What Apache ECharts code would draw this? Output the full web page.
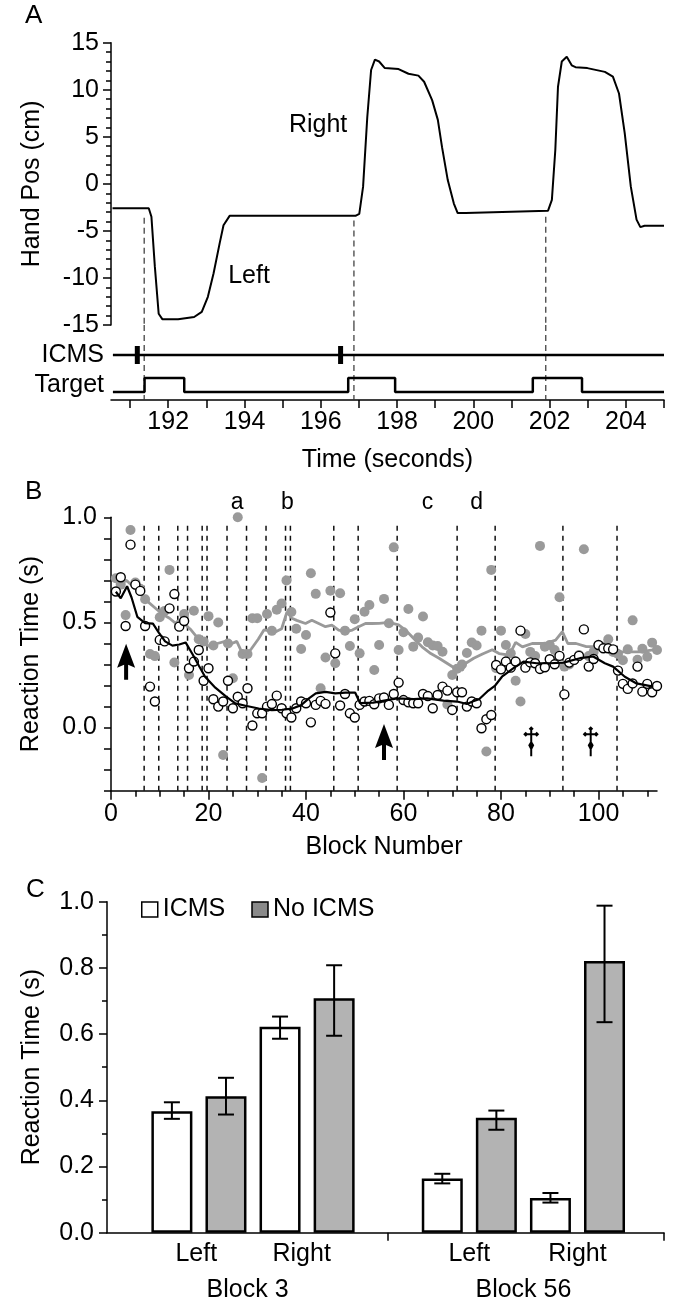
<!DOCTYPE html>
<html><head><meta charset="utf-8">
<script src="https://cdn.jsdelivr.net/npm/echarts@6/dist/echarts.min.js"></script>
<style>html,body{margin:0;padding:0;background:#fff}#c{width:679px;height:1307px}</style>
</head><body><div id="c"></div>
<script>
// ---------- Panel A data ----------
const handTime = [190.54,191.49,191.56,191.65,191.75,191.85,192.26,192.68,192.88,193.04,193.19,193.35,193.45,193.61,196.91,197.01,197.11,197.22,197.32,197.42,197.53,197.68,198.04,198.30,198.56,198.71,198.92,199.07,199.18,199.33,199.49,199.59,199.80,201.96,202.06,202.15,202.22,202.32,202.45,202.58,202.68,202.99,203.45,203.66,203.82,203.97,204.13,204.28,204.38,204.49,205.0];
const handPos = [-2.6,-2.6,-3.5,-8.8,-13.8,-14.4,-14.4,-14.15,-13.6,-12.0,-9.5,-6.3,-4.4,-3.4,-3.4,-3.2,-0.3,7.1,12.1,13.2,13.0,12.3,12.2,11.7,11.5,10.85,8.9,6.8,3.9,0.4,-2.1,-3.1,-3.1,-2.85,-1.7,3.6,10.3,13.0,13.5,12.6,12.4,12.3,11.9,11.4,9.6,5.4,-0.3,-3.8,-4.6,-4.45,-4.45];
const timeStart = 190.55;
const timeEnd = 205;
const targetOn = [191.38, 196.72, 201.56];
const targetOff = [192.42, 197.95, 202.85];
const targetLow = 0.8, targetHigh = 2.2;
const icmsRow = 4.5;
const icmsPulse = [191.19, 196.52];
const cueLines = [191.37, 196.87, 201.90];
const cueLineTop = [-3.6, -3.9, -3.5];
const timeTickValues = [191,192,193,194,195,196,197,198,199,200,201,202,203,204,205];
const timeLabelValues = [192,194,196,198,200,202,204];
const rowLabelPos = [1.5, 4.5];
const rowLabelText = ['Target', 'ICMS'];
const traceLabels = [{name:'Right', value:[195.93, 6.25]}, {name:'Left', value:[194.12, -9.8]}];

// ---------- Panel B data ----------
const blockNumbers = Array.from({length:112}, (_, i) => i + 1);
const icmsRT = [0.647,0.715,0.483,0.87,0.68,0.65,0.483,0.195,0.124,0.417,
  0.41,0.567,0.635,0.48,0.507,0.282,0.314,0.369,0.223,0.282,
  0.135,0.10,0.124,0.223,0.092,0.147,0.116,0.187,0.01,0.068,
  0.068,0.10,0.112,0.152,0.092,0.068,0.048,0.092,0.124,0.116,
  0.025,0.108,0.127,0.113,0.547,0.353,0.105,0.16,0.068,0.048,
  0.108,0.124,0.127,0.111,0.139,0.143,0.108,0.16,0.214,0.131,
  0.12,0.116,0.116,0.16,0.15,0.092,0.155,0.195,0.176,0.084,
  0.168,0.168,0.10,0.124,0.116,-0.003,0.04,0.06,0.298,0.277,
  0.314,0.285,0.314,0.461,0.285,0.31,0.306,0.279,0.287,0.325,
  0.301,0.341,0.158,0.309,0.322,0.341,0.467,0.29,0.326,0.393,
  0.377,0.377,0.372,0.271,0.208,0.184,0.21,0.29,0.171,0.208,
  0.168,0.198];
const noIcmsRT = [0.71,0.68,0.535,0.94,0.69,0.66,0.61,0.35,0.34,0.525,
  0.555,0.75,0.31,0.49,0.54,0.25,0.556,0.42,0.41,0.53,
  0.39,0.50,-0.13,0.40,0.235,1.0,0.35,0.35,0.52,0.52,
  -0.24,0.54,0.46,0.56,0.59,0.70,0.55,0.47,0.374,0.44,
  0.734,0.636,0.187,0.333,0.651,0.306,0.639,0.461,0.388,0.515,
  0.353,0.551,0.583,0.274,0.393,0.612,0.496,0.857,0.369,0.453,
  0.564,0.385,0.428,0.528,0.406,0.39,0.388,0.361,0.11,0.25,
  0.28,0.30,0.355,0.405,0.39,0.461,-0.114,0.75,0.282,0.461,
  0.393,0.353,0.223,0.124,0.445,0.36,0.34,0.864,0.385,0.393,
  0.369,0.62,0.29,0.30,0.32,0.345,0.848,0.34,0.36,0.39,
  0.384,0.42,0.36,0.35,0.32,0.372,0.51,0.323,0.375,0.337,
  0.404,0.369];
const icmsAvg = [[1,0.646],[2,0.615],[3.3,0.672],[4.2,0.62],[5.4,0.527],[7,0.497],[8.6,0.494],[9.8,0.452],[11.1,0.41],[12.6,0.39],[14,0.395],[15.3,0.405],[16.7,0.35],[18,0.295],[19.3,0.242],[21.4,0.19],[23.5,0.15],[25.5,0.115],[27.6,0.104],[30.3,0.091],[33,0.083],[35.1,0.085],[37.1,0.09],[39,0.107],[40.6,0.139],[42,0.163],[44,0.17],[46,0.163],[48.1,0.166],[50.1,0.166],[51.1,0.116],[53.8,0.119],[56.6,0.131],[58.7,0.139],[62.1,0.135],[64.8,0.139],[68.2,0.128],[71,0.124],[73,0.112],[74.3,0.125],[75.5,0.135],[77.2,0.172],[78.8,0.2],[80.2,0.242],[82.5,0.282],[84.6,0.314],[87.3,0.306],[90,0.306],[92.8,0.309],[96.2,0.33],[98.9,0.338],[101.3,0.306],[103,0.29],[105.4,0.242],[107.8,0.21],[111.2,0.195]];
const noIcmsAvg = [[1,0.71],[2.2,0.69],[3.2,0.70],[5,0.66],[7,0.61],[9,0.57],[10.5,0.54],[12,0.52],[13.3,0.495],[14.2,0.48],[15.2,0.49],[16.4,0.465],[18,0.42],[19.3,0.395],[20.5,0.385],[21.8,0.40],[23.4,0.41],[24.8,0.40],[25.8,0.41],[26.8,0.36],[27.8,0.345],[28.8,0.375],[30.2,0.42],[31.4,0.465],[32.5,0.46],[33.7,0.455],[35,0.47],[36.1,0.55],[37.1,0.52],[38.1,0.51],[39.9,0.495],[41.2,0.51],[42.6,0.495],[44,0.48],[45.3,0.487],[46.7,0.464],[48.1,0.456],[49.5,0.464],[50.8,0.48],[52.2,0.495],[53.5,0.495],[55,0.496],[57,0.50],[59,0.488],[60.4,0.464],[62.1,0.424],[63.8,0.384],[65.6,0.352],[67.3,0.33],[69,0.305],[70.7,0.28],[72.1,0.273],[72.7,0.305],[74.4,0.33],[76.2,0.35],[78.2,0.37],[79.6,0.352],[81.7,0.345],[83,0.405],[84.4,0.384],[86.4,0.40],[89.1,0.40],[91.2,0.416],[92.6,0.456],[93.7,0.40],[95.4,0.40],[97.5,0.385],[99.5,0.385],[101.6,0.37],[103.6,0.36],[105.6,0.36],[108.4,0.36],[111.2,0.37]];
const sessionLines = [6.8,9.8,13.7,15.7,18.7,19.7,23.8,27.8,31.8,35.8,36.8,45.7,50.7,58.7,71.0,78.8,92.7,103.8];
const sessionLetters = [{name:'a', value:[25.9,1.07]},{name:'b', value:[36.2,1.07]},{name:'c', value:[64.9,1.07]},{name:'d', value:[75.0,1.07]}];
const arrowMarks = [[3.1,0.313],[56.0,-0.069]];
const daggerMarks = [[86.2,-0.065],[98.4,-0.065]];
const blockMinorTicks = [5,10,15,25,30,35,45,50,55,65,70,75,85,90,95,105,110];
const blockMajorTicks = [0,20,40,60,80,100];

// ---------- Panel C data ----------
const cIcmsPos = [0,2,5,7];
const cNoIcmsPos = [1,3,6,8];
const cIcmsMean = [0.367,0.622,0.164,0.105];
const cIcmsLo = [0.344,0.586,0.149,0.091];
const cIcmsHi = [0.394,0.653,0.178,0.120];
const cNoIcmsMean = [0.412,0.708,0.347,0.821];
const cNoIcmsLo = [0.357,0.595,0.311,0.636];
const cNoIcmsHi = [0.468,0.808,0.369,0.988];
const cLabelPos = [0.45,2.4,5.5,7.5];
const cLabelText = ['Left','Right','Left','Right'];
const cGroupPos = [1.4,6.5];
const cGroupText = ['Block 3','Block 56'];
const cTickPos = [4, 9.1];

// ---------- build ----------
const FONT = 'Liberation Sans, Arial, Helvetica, sans-serif';
const FS = 25;
const txt = {color:'#000', fontSize:FS, fontFamily:FONT};
const axLine = {color:'#000', width:1.5};

const targetData = [[timeStart, targetLow]];
targetOn.forEach((on, i) => {
  targetData.push([on, targetLow],[on, targetHigh],[targetOff[i], targetHigh],[targetOff[i], targetLow]);
});
targetData.push([timeEnd, targetLow]);

const chart = echarts.init(document.getElementById('c'), null, {renderer:'canvas'});
const noSplit = {splitLine:{show:false}, minorSplitLine:{show:false}};
const line = (extra) => Object.assign({show:true, onZero:false, lineStyle:axLine}, extra || {});
const titleStyle = {fontSize:26, fontWeight:'normal', color:'#000', fontFamily:FONT};

const daggerPath = 'path://M8,0 L10.5,2.5 L8,5 L5.5,2.5 Z ' +
  'M0,8 L2.5,5.5 L5,8 L2.5,10.5 Z ' +
  'M16,8 L13.5,10.5 L11,8 L13.5,5.5 Z ' +
  'M2,7 L14,7 L14,9 L2,9 Z ' +
  'M7,2 L9,2 L9,30 L7,30 Z ' +
  'M8,14 L11,19 L8,25 L5,19 Z';

chart.setOption({
  animation:false,
  backgroundColor:'#fff',
  textStyle:{fontFamily:FONT, color:'#000'},
  title:[
    {text:'A', left:25, top:3, padding:0, textStyle:titleStyle},
    {text:'B', left:25, top:479, padding:0, textStyle:titleStyle},
    {text:'C', left:26, top:877, padding:0, textStyle:titleStyle}
  ],
  legend:{
    data:[{name:'ICMS', itemStyle:{color:'#fff', borderColor:'#000', borderWidth:1.5}},
          {name:'No ICMS', itemStyle:{color:'#8a8a8a', borderColor:'#000', borderWidth:1.5}}],
    left:141, top:897, padding:0, itemWidth:16, itemHeight:15, itemGap:26, icon:'rect', selectedMode:false,
    textStyle:{fontSize:FS, color:'#000', fontFamily:FONT}
  },
  grid:[
    {left:111, top:42.7, width:553, height:282.3, outerBoundsMode:'none'},
    {left:111, top:325, width:553, height:75, outerBoundsMode:'none'},
    {left:111, top:517.3, width:546, height:273.4, outerBoundsMode:'none'},
    {left:107, top:901.7, width:557, height:331, outerBoundsMode:'none'}
  ],
  xAxis:[
    Object.assign({gridIndex:0, type:'value', min:190.5, max:205, show:false}, noSplit),
    Object.assign({gridIndex:1, type:'value', min:190.5, max:205, position:'bottom',
      axisLine:line(),
      axisTick:{show:true, customValues:timeTickValues, length:8, lineStyle:axLine},
      axisLabel:Object.assign({show:true, customValues:timeLabelValues, margin:10}, txt),
      name:'Time (seconds)', nameLocation:'middle', nameGap:48, nameTextStyle:txt}, noSplit),
    Object.assign({gridIndex:2, type:'value', min:0, max:112, position:'bottom',
      axisLine:line(),
      axisTick:{show:true, customValues:blockMinorTicks, length:6, lineStyle:axLine},
      axisLabel:{show:false}}, noSplit),
    Object.assign({gridIndex:2, type:'value', min:0, max:112, position:'bottom',
      axisLine:{show:false, onZero:false},
      axisTick:{show:true, customValues:blockMajorTicks, length:9, lineStyle:axLine},
      axisLabel:Object.assign({show:true, customValues:blockMajorTicks, margin:11}, txt),
      name:'Block Number', nameLocation:'middle', nameGap:44, nameTextStyle:txt}, noSplit),
    Object.assign({gridIndex:3, type:'value', min:-1.2, max:9.1, position:'bottom',
      axisLine:line(),
      axisTick:{show:true, customValues:cTickPos, length:8, lineStyle:axLine},
      axisLabel:Object.assign({show:true, customValues:cLabelPos, margin:9,
        formatter:v => cLabelText[cLabelPos.indexOf(v)] || ''}, txt)}, noSplit),
    Object.assign({gridIndex:3, type:'value', min:-1.2, max:9.1, position:'bottom',
      axisLine:{show:false, onZero:false}, axisTick:{show:false},
      axisLabel:Object.assign({show:true, customValues:cGroupPos, margin:45,
        formatter:v => cGroupText[cGroupPos.indexOf(v)] || ''}, txt)}, noSplit)
  ],
  yAxis:[
    Object.assign({gridIndex:0, type:'value', min:-15, max:15, interval:5, position:'left',
      axisLine:line(),
      axisTick:{show:true, length:8, lineStyle:axLine},
      minorTick:{show:true, splitNumber:5, length:5, lineStyle:axLine},
      axisLabel:Object.assign({show:true, margin:12}, txt),
      name:'Hand Pos (cm)', nameLocation:'middle', nameGap:66, nameTextStyle:txt}, noSplit),
    Object.assign({gridIndex:1, type:'value', min:0, max:7.5, position:'left',
      axisLine:{show:false, onZero:false}, axisTick:{show:false},
      axisLabel:Object.assign({show:true, customValues:rowLabelPos, margin:7,
        formatter:v => rowLabelText[rowLabelPos.indexOf(v)] || ''}, txt)}, noSplit),
    Object.assign({gridIndex:2, type:'value', min:-0.3, max:1.0, interval:0.1, position:'left',
      axisLine:line(),
      axisTick:{show:true, length:7, lineStyle:axLine},
      axisLabel:Object.assign({show:true, margin:14, formatter:v => {
        const r = Math.round(v*10)/10;
        return (Math.abs(r*2 - Math.round(r*2)) < 1e-6) ? (r === 0 ? '0.0' : r.toFixed(1)) : '';
      }}, txt),
      name:'Reaction Time (s)', nameLocation:'middle', nameGap:67, nameTextStyle:txt}, noSplit),
    Object.assign({gridIndex:3, type:'value', min:0, max:1.0, interval:0.2, position:'left',
      axisLine:line(),
      axisTick:{show:true, length:8, lineStyle:axLine},
      minorTick:{show:true, splitNumber:2, length:5, lineStyle:axLine},
      axisLabel:Object.assign({show:true, margin:13, formatter:v => (Math.round(v*10)/10).toFixed(1)}, txt),
      name:'Reaction Time (s)', nameLocation:'middle', nameGap:62, nameTextStyle:txt}, noSplit)
  ],
  series:[
    // Panel A
    {type:'line', xAxisIndex:0, yAxisIndex:0, symbol:'none', z:3,
      data:handTime.map((t,i)=>[t, handPos[i]]), lineStyle:{color:'#000', width:2}},
    {type:'line', xAxisIndex:0, yAxisIndex:0, symbol:'none', connectNulls:false, z:2,
      data:cueLines.flatMap((x,i)=>[[x,cueLineTop[i]],[x,-15],[x,null]]),
      lineStyle:{color:'#333', width:1.2, type:[6,4]}},
    {type:'line', xAxisIndex:1, yAxisIndex:1, symbol:'none', connectNulls:false, z:2,
      data:cueLines.flatMap(x=>[[x,7.5],[x,0],[x,null]]),
      lineStyle:{color:'#333', width:1.2, type:[6,4]}},
    {type:'line', xAxisIndex:1, yAxisIndex:1, symbol:'none', z:3,
      data:[[timeStart, icmsRow],[timeEnd, icmsRow]], lineStyle:{color:'#000', width:2.5}},
    {type:'scatter', xAxisIndex:1, yAxisIndex:1, symbol:'rect', symbolSize:[5,18], z:4,
      data:icmsPulse.map(t=>[t, icmsRow]), itemStyle:{color:'#000', opacity:1}},
    {type:'line', xAxisIndex:1, yAxisIndex:1, symbol:'none', z:3,
      data:targetData, lineStyle:{color:'#000', width:2.5}},
    {type:'scatter', xAxisIndex:0, yAxisIndex:0, symbolSize:1, z:5, silent:true,
      data:traceLabels, itemStyle:{color:'rgba(0,0,0,0)', opacity:1},
      label:Object.assign({show:true, position:'inside', formatter:p=>p.name, opacity:1}, txt)},
    // Panel B
    {type:'line', xAxisIndex:2, yAxisIndex:2, symbol:'none', connectNulls:false, z:1,
      data:sessionLines.flatMap(x=>[[x,-0.3],[x,0.98],[x,null]]),
      lineStyle:{color:'#111', width:1.5, type:[5,5]}},
    {type:'scatter', xAxisIndex:2, yAxisIndex:2, symbolSize:10, z:2, clip:false,
      data:blockNumbers.map((b,i)=>[b, noIcmsRT[i]]), itemStyle:{color:'#9a9a9a', opacity:1}},
    {type:'line', xAxisIndex:2, yAxisIndex:2, symbol:'none', z:3,
      data:noIcmsAvg, lineStyle:{color:'#999', width:2.8}},
    {type:'scatter', xAxisIndex:2, yAxisIndex:2, symbolSize:9, z:4, clip:false,
      data:blockNumbers.map((b,i)=>[b, icmsRT[i]]),
      itemStyle:{color:'#fff', borderColor:'#000', borderWidth:1.4, opacity:1}},
    {type:'line', xAxisIndex:2, yAxisIndex:2, symbol:'none', z:5,
      data:icmsAvg, lineStyle:{color:'#000', width:2.2}},
    {type:'scatter', xAxisIndex:2, yAxisIndex:2, symbolSize:1, z:5, clip:false, silent:true,
      data:sessionLetters, itemStyle:{color:'rgba(0,0,0,0)', opacity:1},
      label:{show:true, position:'inside', formatter:p=>p.name, color:'#000', opacity:1, fontSize:23, fontFamily:FONT}},
    {type:'scatter', xAxisIndex:2, yAxisIndex:2, z:6, clip:false,
      symbol:'path://M9,0 L18,24 L11,21 L11,36 L7,36 L7,21 L0,24 Z', symbolSize:[18,36],
      data:arrowMarks, itemStyle:{color:'#000', opacity:1}},
    {type:'scatter', xAxisIndex:2, yAxisIndex:2, z:6, clip:false,
      symbol:daggerPath, symbolSize:[16,30], data:daggerMarks, itemStyle:{color:'#000', opacity:1}},
    // Panel C
    {type:'bar', name:'ICMS', xAxisIndex:4, yAxisIndex:3, barWidth:41, barGap:'-100%', z:2,
      data:cIcmsPos.map((x,i)=>[x, cIcmsMean[i]]),
      itemStyle:{color:'#fff', borderColor:'#000', borderWidth:2.5}},
    {type:'bar', name:'No ICMS', xAxisIndex:4, yAxisIndex:3, barWidth:41, barGap:'-100%', z:2,
      data:cNoIcmsPos.map((x,i)=>[x, cNoIcmsMean[i]]),
      itemStyle:{color:'#b3b3b3', borderColor:'#000', borderWidth:2.5}},
    {type:'custom', xAxisIndex:4, yAxisIndex:3, z:5,
      data:cIcmsPos.map((x,i)=>[x, cIcmsLo[i], cIcmsHi[i]]).concat(cNoIcmsPos.map((x,i)=>[x, cNoIcmsLo[i], cNoIcmsHi[i]])),
      encode:{x:0, y:[1,2]},
      renderItem:(params, api) => {
        const x = api.value(0);
        const pLo = api.coord([x, api.value(1)]);
        const pHi = api.coord([x, api.value(2)]);
        const hw = 8;
        const st = {stroke:'#000', lineWidth:2};
        return {type:'group', children:[
          {type:'line', shape:{x1:pLo[0], y1:pLo[1], x2:pHi[0], y2:pHi[1]}, style:st},
          {type:'line', shape:{x1:pLo[0]-hw, y1:pLo[1], x2:pLo[0]+hw, y2:pLo[1]}, style:st},
          {type:'line', shape:{x1:pHi[0]-hw, y1:pHi[1], x2:pHi[0]+hw, y2:pHi[1]}, style:st}
        ]};
      }}
  ]
});
</script>
</body></html>
